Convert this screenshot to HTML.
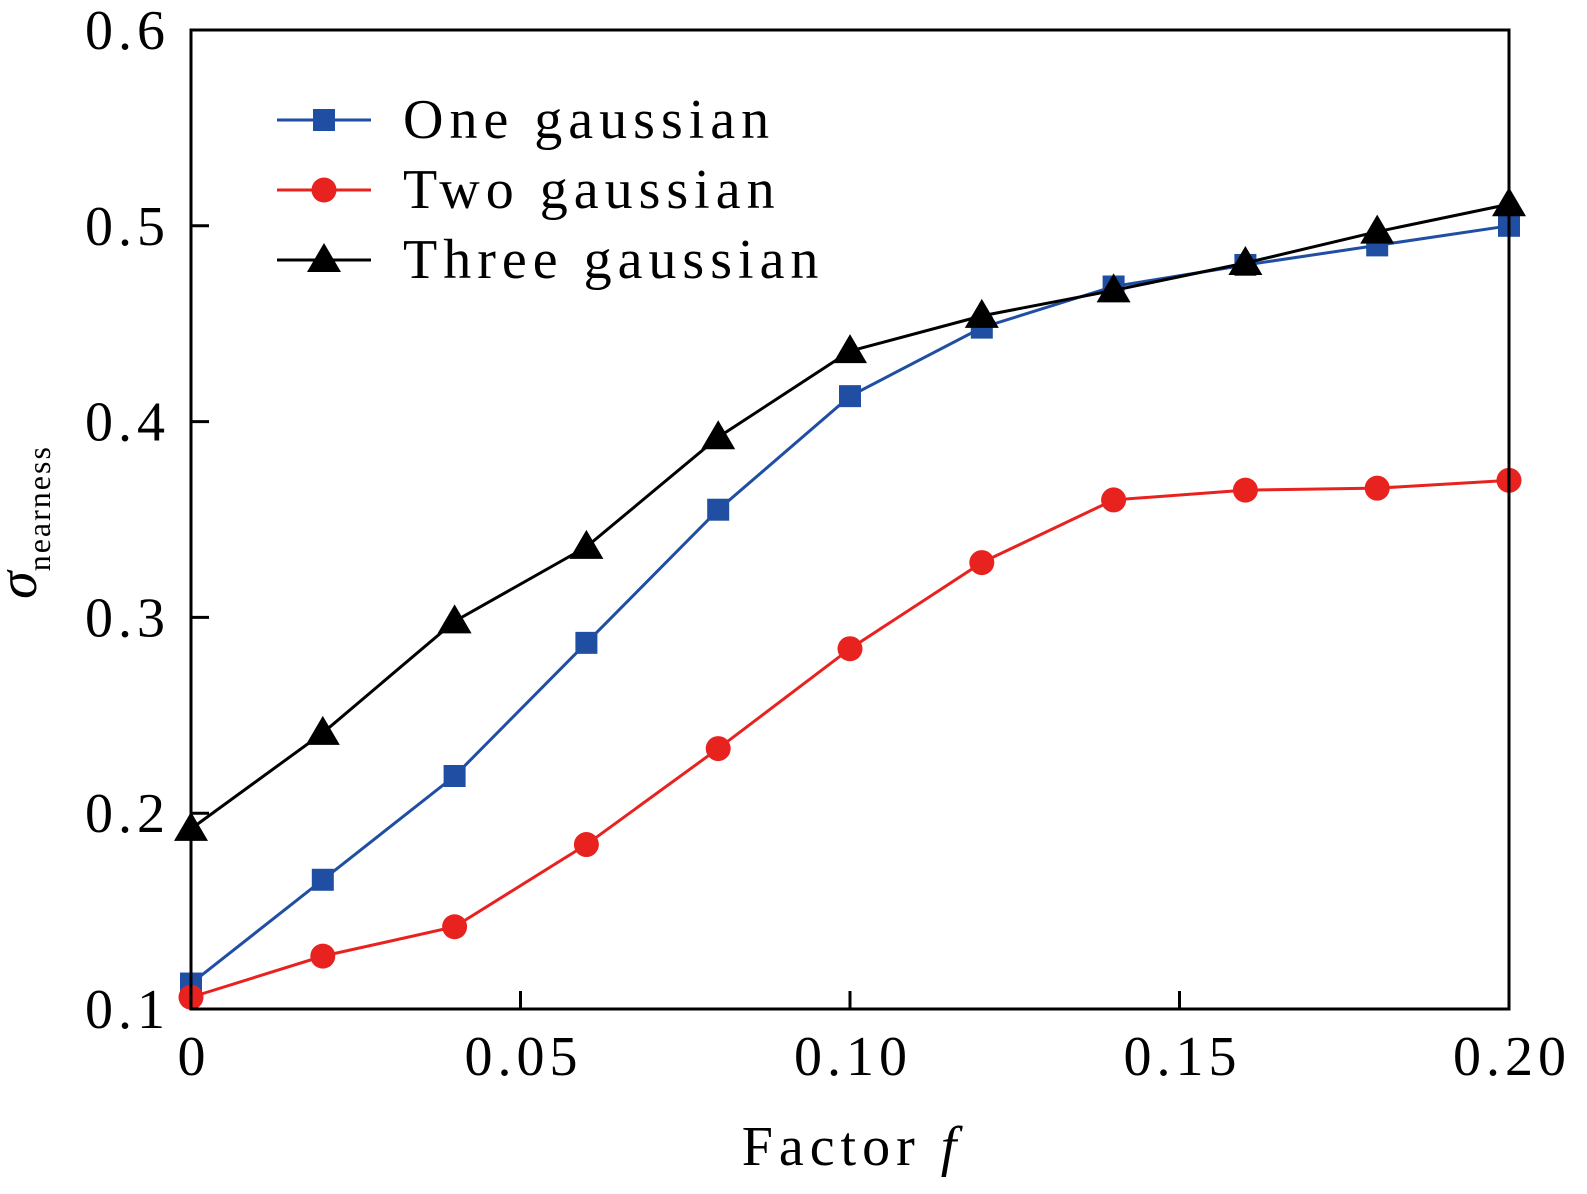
<!DOCTYPE html>
<html><head><meta charset="utf-8"><style>
body{margin:0;background:#fff}
svg{display:block}
text{font-family:"Liberation Serif",serif;fill:#000}
</style></head><body>
<svg id="chart" width="1587" height="1194" viewBox="0 0 1587 1194" xmlns="http://www.w3.org/2000/svg">
<g id="ticks"></g>
<g id="series"></g>
<rect x="191" y="30" width="1318" height="979" fill="none" stroke="#000" stroke-width="3"/>
<g id="legend"></g>
<text x="852" y="1165" font-size="56" text-anchor="middle" letter-spacing="6">Factor <tspan font-style="italic">f</tspan></text>
<text transform="translate(36,522) rotate(-90)" font-size="56" text-anchor="middle"><tspan font-style="italic">σ</tspan><tspan font-size="32" dy="14" letter-spacing="2">nearness</tspan></text>
</svg>
<script>
const xs=[0,0.02,0.04,0.06,0.08,0.10,0.12,0.14,0.16,0.18,0.20];
const one=[0.113,0.166,0.219,0.287,0.355,0.413,0.448,0.469,0.480,0.490,0.500];
const two=[0.106,0.127,0.142,0.184,0.233,0.284,0.328,0.360,0.365,0.366,0.370];
const three=[0.192,0.241,0.298,0.336,0.392,0.436,0.454,0.467,0.481,0.497,0.511];
const xTicks=[0,0.05,0.10,0.15,0.20];
const xTickLabels=["0","0.05","0.10","0.15","0.20"];
const yTicks=[0.1,0.2,0.3,0.4,0.5,0.6];
const yTickLabels=["0.1","0.2","0.3","0.4","0.5","0.6"];
const NS="http://www.w3.org/2000/svg";
const X=v=>191+(v/0.2)*1318;
const Y=v=>1009-(v-0.1)/0.5*979;
function mk(tag,attrs,parent){const e=document.createElementNS(NS,tag);for(const k in attrs)e.setAttribute(k,attrs[k]);parent.appendChild(e);return e;}
const tg=document.getElementById('ticks');
xTicks.forEach((v,i)=>{
 const l=mk('line',{x1:X(v),x2:X(v),y1:1009,y2:991,stroke:'#000','stroke-width':3},tg);
 
 
 const t=mk('text',{x:X(v)+3,y:1075,'font-size':56,'text-anchor':'middle','letter-spacing':5},tg);
 t.textContent=xTickLabels[i];
 
 
});
yTicks.forEach((v,i)=>{
 const l=mk('line',{x1:191,x2:209,y1:Y(v),y2:Y(v),stroke:'#000','stroke-width':3},tg);
 
 
 const t=mk('text',{x:170,y:Y(v)+19,'font-size':56,'text-anchor':'end','letter-spacing':5},tg);
 t.textContent=yTickLabels[i];
 
 
});
function marker(type,cx,cy,color,parent){
 let e;
 if(type==='sq') e=mk('rect',{x:cx-11,y:cy-11,width:22,height:22,fill:color},parent);
 else if(type==='c') e=mk('circle',{cx:cx,cy:cy,r:12.5,fill:color},parent);
 else e=mk('polygon',{points:`${cx},${cy-17} ${cx-17},${cy+12} ${cx+17},${cy+12}`,fill:color},parent);
 return e;
}
const sg=document.getElementById('series');
const defs=[[one,'#1f4ea3','sq','one-gaussian'],[two,'#e8221f','c','two-gaussian'],[three,'#000','t','three-gaussian']];
defs.forEach(([ys,col,m,name])=>{
 const g=mk('g',{},sg);
 
 
 const p=mk('polyline',{points:xs.map((x,i)=>X(x)+','+Y(ys[i])).join(' '),fill:'none',stroke:col,'stroke-width':3},g);
 
 
 xs.forEach((x,i)=>{
  const e=marker(m,X(x),Y(ys[i]),col,g);
  
  
 });
});
const lg=document.getElementById('legend');
const labels=['One gaussian','Two gaussian','Three gaussian'];
defs.forEach(([ys,col,m,name],i)=>{
 const y=120+i*70;
 const g=mk('g',{},lg);
 
 
 mk('line',{x1:277,x2:371,y1:y,y2:y,stroke:col,'stroke-width':3},g);
 marker(m,324,y,col,g);
 const t=mk('text',{x:403,y:y+18,'font-size':56,'letter-spacing':6},g);
 t.textContent=labels[i];
});
</script>
</body></html>
